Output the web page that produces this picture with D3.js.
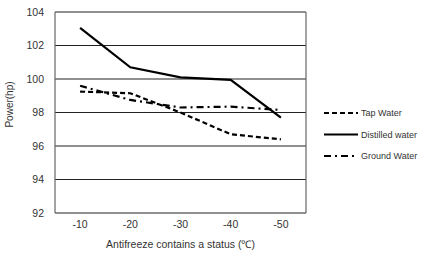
<!DOCTYPE html>
<html>

<head>
    <title>Antifreeze Power</title>
    <script src="https://d3js.org/d3.v7.min.js"></script>
    <style>
        body {
            margin: 0;
            background: #fff;
        }

        text {
            font-family: "Liberation Sans", Arial, sans-serif;
            fill: #333;
        }
    </style>
</head>

<body>
    <div id="graph"></div>
    <script>
        // chart data
        const categories = ["-10", "-20", "-30", "-40", "-50"];
        const tapWater = [99.25, 99.15, 98.0, 96.7, 96.4];
        const distilledWater = [103.05, 100.7, 100.1, 99.95, 97.7];
        const groundWater = [99.6, 98.75, 98.3, 98.35, 98.15];
        const yTicks = [92, 94, 96, 98, 100, 102, 104];

        const series = [
            { name: "Tap Water", values: tapWater, dash: "5,3" },
            { name: "Distilled water", values: distilledWater, dash: null },
            { name: "Ground Water", values: groundWater, dash: "7,4,2,4" }
        ];

        const W = 429, H = 258;
        const margin = { top: 12, right: 123, bottom: 45, left: 55 };
        const width = W - margin.left - margin.right,
            height = H - margin.top - margin.bottom;

        const svg = d3.select("#graph").append("svg")
            .attr("width", W)
            .attr("height", H);

        const g = svg.append("g")
            .attr("transform", "translate(" + margin.left + "," + margin.top + ")");

        const x = d3.scaleBand().domain(categories).range([0, width]);
        const y = d3.scaleLinear().domain([92, 104]).range([height, 0]);

        // gridlines
        g.append("g")
            .selectAll("line")
            .data(yTicks)
            .enter().append("line")
            .attr("x1", 0)
            .attr("x2", width)
            .attr("y1", d => y(d))
            .attr("y2", d => y(d))
            .attr("stroke", "#222")
            .attr("stroke-width", 1.2);

        // frame sides
        g.append("line").attr("x1", 0).attr("x2", 0).attr("y1", 0).attr("y2", height)
            .attr("stroke", "#666").attr("stroke-width", 1.2);
        g.append("line").attr("x1", width).attr("x2", width).attr("y1", 0).attr("y2", height)
            .attr("stroke", "#666").attr("stroke-width", 1.2);

        // y axis labels
        const yAxis = g.append("g")
            .call(d3.axisLeft(y).tickValues(yTicks).tickSize(0).tickPadding(11));
        yAxis.select(".domain").remove();
        yAxis.selectAll("text").attr("font-size", 10.5).attr("fill", "#333")
            .style("font-family", "Liberation Sans, Arial, sans-serif");

        // x axis labels
        const xAxis = g.append("g")
            .attr("transform", "translate(0," + height + ")")
            .call(d3.axisBottom(x).tickSize(0).tickPadding(8));
        xAxis.select(".domain").remove();
        xAxis.selectAll("text").attr("font-size", 10.5).attr("fill", "#333")
            .style("font-family", "Liberation Sans, Arial, sans-serif");

        // axis titles
        g.append("text")
            .attr("x", width / 2)
            .attr("y", height + 35)
            .attr("text-anchor", "middle")
            .attr("font-size", 10.5)
            .text("Antifreeze contains a status (℃)");

        g.append("text")
            .attr("transform", "translate(-42," + (height / 2 - 8) + ") rotate(-90)")
            .attr("text-anchor", "middle")
            .attr("font-size", 10)
            .text("Power(hp)");

        // lines
        const line = d3.line()
            .x((d, i) => x(categories[i]) + x.bandwidth() / 2)
            .y(d => y(d));

        g.selectAll(".series")
            .data(series)
            .enter().append("path")
            .attr("class", "series")
            .attr("d", d => line(d.values))
            .attr("fill", "none")
            .attr("stroke", "#000")
            .attr("stroke-width", 2.2)
            .attr("stroke-dasharray", d => d.dash);

        // legend
        const legend = svg.append("g")
            .attr("transform", "translate(324,113)")
            .selectAll("g")
            .data(series)
            .enter().append("g")
            .attr("transform", (d, i) => "translate(0," + i * 21.5 + ")");

        legend.append("line")
            .attr("x1", 0)
            .attr("x2", 34)
            .attr("stroke", "#000")
            .attr("stroke-width", 2.2)
            .attr("stroke-dasharray", d => d.dash);

        legend.append("text")
            .attr("x", 37)
            .attr("dy", "0.35em")
            .attr("font-size", 9)
            .text(d => d.name);
    </script>
</body>

</html>
